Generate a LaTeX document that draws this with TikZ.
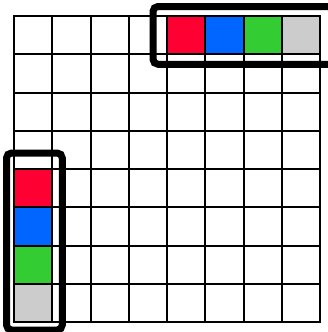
\documentclass[tikz,border=0pt]{standalone}
\definecolor{cellred}{RGB}{255,0,51}
\definecolor{cellblue}{RGB}{0,102,255}
\definecolor{cellgreen}{RGB}{51,204,51}
\definecolor{cellgray}{RGB}{204,204,204}
\begin{document}
\begin{tikzpicture}[x=1pt, y=-1pt,
  cell/.style={draw, line width=2pt, minimum size=38.25pt, inner sep=0pt, anchor=north west},
  group/.style={draw, line width=7pt, rounded corners=5pt}]
  \useasboundingbox (0,0) rectangle (328,332);
  \clip (0,0) rectangle (328,332);
  % the 8x8 grid
  \foreach \r in {0,...,7}
    \foreach \c in {0,...,7}
      \node[cell] (c\r\c) at (13+38.25*\c, 15+38.25*\r) {};
  % first row and first column coloured
  \foreach \i/\col in {4/cellred, 5/cellblue, 6/cellgreen, 7/cellgray} {
    \node[cell, fill=\col] at (c0\i.north west) {};
    \node[cell, fill=\col] at (c\i0.north west) {};
  }
  % the two groups
  \draw[group] ([shift={(-13,-8.5)}]c04.north west) rectangle ([shift={(30,9)}]c07.south east);
  \draw[group] ([shift={(-6.5,-15)}]c40.north west) rectangle ([shift={(9,7)}]c70.south east);
\end{tikzpicture}
\end{document}
